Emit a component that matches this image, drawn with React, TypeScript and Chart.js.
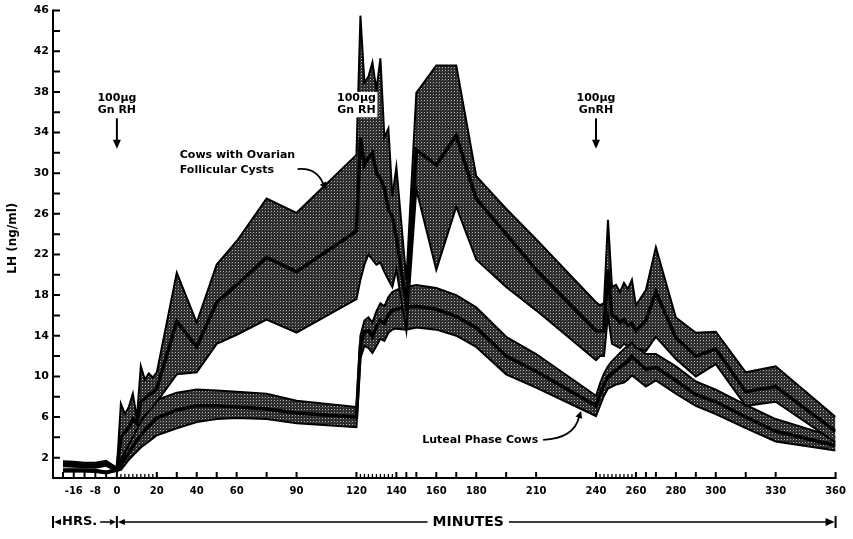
import React, { useEffect, useRef } from 'react';
import { Chart, registerables } from 'chart.js';

Chart.register(...registerables);

// hours before the first GnRH injection are drawn compressed on the minute axis
const HOUR_TO_AXIS = 1.35;

const hourTimes = [-20, -16, -12, -8, -4];
const minuteTimes = [
  0, 2, 4, 6, 8, 10, 12, 14, 16, 18, 20, 30, 40, 50, 60, 75, 90,
  120, 122, 124, 126, 128, 130, 132, 134, 136, 138, 140, 145, 150, 160, 170, 180, 195, 210,
  240, 242, 244, 246, 248, 250, 252, 254, 256, 258, 260, 265, 270, 280, 290, 300, 315, 330, 360,
];

// Cows with ovarian follicular cysts (mean and +/- SE band)
const cystMean = [
  1.4, 1.35, 1.25, 1.25, 1.45,
  0.85, 4.0, 4.5, 5.0, 5.8, 5.4, 7.5, 7.8, 8.2, 8.4, 8.8, 15.4, 12.9, 17.3, 19.0, 21.7, 20.3,
  24.3, 33.5, 30.8, 31.5, 32.0, 30.0, 29.5, 28.5, 26.4, 25.7, 23.7, 17.0, 32.3, 30.8, 33.7, 27.5, 24.0, 20.5,
  14.5, 14.5, 14.5, 20.5, 16.0, 15.8, 15.3, 15.6, 15.0, 15.2, 14.5, 15.5, 18.3, 13.8, 12.0, 12.7, 8.5, 9.0, 4.6,
];
const cystUpper = [
  1.65, 1.6, 1.5, 1.5, 1.7,
  1.0, 7.3, 6.3, 7.0, 8.3, 5.9, 11.0, 9.7, 10.3, 9.9, 10.4, 20.2, 15.3, 21.0, 23.3, 27.5, 26.1,
  31.8, 45.5, 38.9, 39.5, 40.9, 38.2, 41.3, 33.5, 34.4, 27.7, 30.6, 19.5, 37.9, 40.6, 40.6, 29.7, 26.5, 23.5,
  17.3, 17.0, 17.2, 25.4, 18.8, 19.0, 18.3, 19.2, 18.6, 19.5, 17.0, 18.5, 22.7, 15.8, 14.3, 14.4, 10.4, 11.0, 6.0,
];
const cystLower = [
  1.15, 1.1, 1.05, 1.0, 1.2,
  0.7, 1.8, 2.6, 3.3, 4.0, 4.8, 5.6, 6.2, 6.6, 7.0, 7.5, 10.2, 10.4, 13.2, 14.1, 15.6, 14.3,
  17.6, 19.5, 21.0, 22.0, 21.5, 21.0, 21.2, 20.3, 19.5, 18.8, 20.5, 14.5, 28.4, 20.5, 26.7, 21.5, 18.8, 16.5,
  11.6, 12.0, 12.0, 16.0, 13.2, 13.0, 12.8, 13.2, 13.0, 13.4, 12.8, 12.5, 13.9, 11.7, 10.0, 11.2, 7.1, 7.5, 3.5,
];

// Luteal phase cows (mean and +/- SE band)
const lutealMean = [
  0.75, 0.75, 0.75, 0.7, 0.55,
  0.8, 1.2, 1.9, 2.5, 3.1, 3.7, 4.2, 4.7, 5.1, 5.5, 5.9, 6.7, 7.1, 7.1, 7.0, 6.8, 6.4,
  6.0, 13.0, 14.4, 14.5, 13.9, 14.9, 15.5, 15.2, 16.1, 16.5, 16.6, 16.8, 16.9, 16.6, 15.9, 14.8, 12.0, 10.5,
  7.1, 8.2, 9.2, 9.9, 10.3, 10.6, 10.9, 11.2, 11.5, 12.0, 11.6, 10.7, 10.9, 9.6, 8.2, 7.5, 6.0, 4.6, 3.2,
];
const lutealUpper = [
  0.85, 0.85, 0.85, 0.8, 0.65,
  0.9, 1.7, 2.5, 3.3, 4.1, 4.8, 5.5, 6.1, 6.7, 7.2, 7.7, 8.4, 8.7, 8.6, 8.5, 8.3, 7.6,
  7.0, 14.0, 15.5, 15.8, 15.3, 16.4, 17.2, 16.9, 17.8, 18.3, 18.5, 18.8, 19.0, 18.7, 18.0, 16.8, 13.9, 12.2,
  8.1, 9.3, 10.3, 11.0, 11.5, 11.9, 12.3, 12.7, 13.0, 13.4, 13.0, 12.2, 12.2, 11.0, 9.5, 8.7, 7.2, 5.8, 4.0,
];
const lutealLower = [
  0.65, 0.65, 0.65, 0.6, 0.45,
  0.7, 0.8, 1.3, 1.8, 2.2, 2.6, 3.0, 3.3, 3.6, 3.9, 4.2, 4.9, 5.5, 5.8, 5.9, 5.8, 5.4,
  5.0, 11.8, 13.0, 12.8, 12.3, 13.0, 13.7, 13.5, 14.3, 14.6, 14.7, 14.6, 14.8, 14.6, 14.0, 12.9, 10.2, 8.9,
  6.1, 7.1, 8.1, 8.8, 9.0, 9.2, 9.3, 9.4, 9.7, 10.1, 9.8, 9.0, 9.6, 8.3, 7.1, 6.3, 4.9, 3.6, 2.7,
];

// axis ticks and labels
const xTickHours = [-20, -16, -12, -8, -4];
const xLabelHours = [-16, -8];
const xLabelMinutes = [0, 20, 40, 60, 90, 120, 140, 160, 180, 210, 240, 260, 280, 300, 330, 360];
const yTickValues = [2, 4, 6, 8, 10, 12, 14, 16, 18, 20, 22, 24, 26, 28, 30, 32, 34, 36, 38, 40, 42, 44, 46];
const yLabelValues = [2, 6, 10, 14, 18, 22, 26, 30, 34, 38, 42, 46];
const doseTimes = [0, 120, 240];
const doseLines = [['100µg', 'Gn RH'], ['100µg', 'Gn RH'], ['100µg', 'GnRH']];

const axisTimes = [...hourTimes.map((h) => h * HOUR_TO_AXIS), ...minuteTimes];
const xTickValues = [...xTickHours.map((h) => h * HOUR_TO_AXIS), ...minuteTimes];

const pts = (vals: number[]) => vals.map((v, i) => ({ x: axisTimes[i], y: v }));

function xLabel(v: number): string {
  for (const h of xLabelHours) if (Math.abs(h * HOUR_TO_AXIS - v) < 1e-6) return String(h);
  if (xLabelMinutes.includes(v)) return String(v);
  return '';
}

function makePattern(ctx: CanvasRenderingContext2D) {
  const c = document.createElement('canvas');
  c.width = 3;
  c.height = 3;
  const g = c.getContext('2d')!;
  g.fillStyle = '#2a2a2a';
  g.fillRect(0, 0, 3, 3);
  g.fillStyle = '#b4b4b4';
  g.fillRect(1, 1, 1, 1);
  g.fillStyle = '#505050';
  g.fillRect(0, 2, 1, 1);
  return ctx.createPattern(c, 'repeat')!;
}

const FONT = '"DejaVu Sans", "Liberation Sans", sans-serif';

function head(ctx: CanvasRenderingContext2D, x: number, y: number, ang: number, len = 7, half = 3.2) {
  const c = Math.cos(ang), s = Math.sin(ang);
  ctx.beginPath();
  ctx.moveTo(x, y);
  ctx.lineTo(x - len * c + half * s, y - len * s - half * c);
  ctx.lineTo(x - len * c - half * s, y - len * s + half * c);
  ctx.closePath();
  ctx.fill();
}

const decor = {
  id: 'decor',
  afterDatasetsDraw(chart: any) {
    const { ctx, scales } = chart;
    const xs = scales.x, ys = scales.y;
    const X = (t: number) => xs.getPixelForValue(t);
    const Y = (v: number) => ys.getPixelForValue(v);
    ctx.save();
    ctx.strokeStyle = '#000';
    ctx.fillStyle = '#000';
    ctx.lineCap = 'butt';

    // axes
    ctx.lineWidth = 2;
    ctx.beginPath();
    ctx.moveTo(xs.left, ys.top - 1);
    ctx.lineTo(xs.left, ys.bottom);
    ctx.lineTo(xs.right + 1, ys.bottom);
    ctx.stroke();

    // y ticks (inward)
    ctx.beginPath();
    for (const t of ys.ticks) {
      const py = Y(t.value);
      ctx.moveTo(xs.left, py);
      ctx.lineTo(xs.left + 7, py);
    }
    ctx.stroke();

    // x ticks (upward)
    for (const t of xs.ticks) {
      const v = t.value;
      const dense = (v > 0 && v < 20) || (v > 120 && v < 140) || (v > 240 && v < 260);
      ctx.lineWidth = dense ? 1.3 : 2;
      const px = X(v);
      ctx.beginPath();
      ctx.moveTo(px, ys.bottom);
      ctx.lineTo(px, ys.bottom - (dense ? 4 : 6));
      ctx.stroke();
    }

    // GnRH annotations
    ctx.font = `bold 11px ${FONT}`;
    ctx.textAlign = 'center';
    ctx.textBaseline = 'middle';
    doseTimes.forEach((t, i) => {
      const px = X(t);
      if (i === 1) {
        ctx.fillStyle = '#fff';
        ctx.fillRect(px - 20, Y(38.0), 41, Y(35.5) - Y(38.0));
        ctx.fillStyle = '#000';
      } else {
        ctx.lineWidth = 2;
        ctx.beginPath();
        ctx.moveTo(px, Y(35.4));
        ctx.lineTo(px, Y(33.0));
        ctx.stroke();
        head(ctx, px, Y(32.4), Math.PI / 2, 9, 4);
      }
      ctx.fillText(doseLines[i][0], px, Y(37.4));
      ctx.fillText(doseLines[i][1], px, Y(36.2));
    });

    // series labels
    ctx.textAlign = 'left';
    ctx.fillText('Cows with Ovarian', X(31.5), Y(31.8));
    ctx.fillText('Follicular Cysts', X(31.5), Y(30.3));
    ctx.lineWidth = 1.8;
    ctx.beginPath();
    ctx.moveTo(X(90.5), Y(30.4));
    ctx.quadraticCurveTo(X(100), Y(30.6), X(103.5), Y(28.9));
    ctx.stroke();
    head(ctx, X(104.8), Y(28.4), Math.atan2(Y(28.4) - Y(28.9), X(104.8) - X(103.5)), 7, 3.5);

    ctx.textAlign = 'center';
    ctx.fillText('Luteal Phase Cows', X(182), Y(3.75));
    ctx.beginPath();
    ctx.moveTo(X(213.5), Y(3.75));
    ctx.quadraticCurveTo(X(229), Y(3.9), X(231.5), Y(6.0));
    ctx.stroke();
    head(ctx, X(232.5), Y(6.6), Math.atan2(Y(6.6) - Y(6.0), X(232.5) - X(231.5)), 7, 3.5);

    // y title
    ctx.save();
    ctx.translate(xs.left - 40, Y(23.6));
    ctx.rotate(-Math.PI / 2);
    ctx.font = `bold 12px ${FONT}`;
    ctx.fillText('LH (ng/ml)', 0, 0);
    ctx.restore();

    // HRS / MINUTES span row
    const row = ys.bottom + 44;
    const x0 = xs.left, xz = X(0), xe = xs.right;
    ctx.lineWidth = 2;
    ctx.beginPath();
    for (const bx of [x0, xz, xe]) {
      ctx.moveTo(bx, row - 6);
      ctx.lineTo(bx, row + 6);
    }
    ctx.stroke();
    ctx.font = `bold 13px ${FONT}`;
    ctx.textAlign = 'left';
    ctx.fillText('HRS.', x0 + 9, row);
    const hw = ctx.measureText('HRS.').width;
    head(ctx, x0 + 1, row, Math.PI, 7, 3);
    ctx.lineWidth = 1.5;
    ctx.beginPath();
    ctx.moveTo(x0 + 9 + hw + 3, row);
    ctx.lineTo(xz - 3, row);
    ctx.stroke();
    head(ctx, xz - 1, row, 0, 6, 3);
    head(ctx, xz + 1, row, Math.PI, 7, 3);
    ctx.font = `bold 14px ${FONT}`;
    ctx.textAlign = 'center';
    const mx = X(176);
    const mw = ctx.measureText('MINUTES').width;
    ctx.fillText('MINUTES', mx, row);
    ctx.beginPath();
    ctx.moveTo(xz + 5, row);
    ctx.lineTo(mx - mw / 2 - 5, row);
    ctx.moveTo(mx + mw / 2 + 5, row);
    ctx.lineTo(xe - 5, row);
    ctx.stroke();
    head(ctx, xe - 1, row, 0, 9, 4);

    ctx.restore();
  },
};

export default function App() {
  const ref = useRef<HTMLCanvasElement>(null);
  useEffect(() => {
    const canvas = ref.current!;
    const ctx = canvas.getContext('2d')!;
    const pattern = makePattern(ctx);
    const edge = { borderColor: '#000', borderWidth: 2, pointRadius: 0, fill: false };
    const mean = { borderColor: '#000', borderWidth: 3.5, pointRadius: 0, fill: false };
    const chart = new Chart(canvas, {
      type: 'line',
      data: {
        datasets: [
          { label: 'Cysts mean', data: pts(cystMean), ...mean },
          { label: 'Cysts lower', data: pts(cystLower), ...edge },
          { label: 'Cysts upper', data: pts(cystUpper), ...edge, fill: '-1', backgroundColor: pattern },
          { label: 'Luteal mean', data: pts(lutealMean), ...mean },
          { label: 'Luteal lower', data: pts(lutealLower), ...edge },
          { label: 'Luteal upper', data: pts(lutealUpper), ...edge, fill: '-1', backgroundColor: pattern },
        ] as any,
      },
      options: {
        responsive: true,
        maintainAspectRatio: false,
        animation: false,
        layout: { padding: { top: 10, right: 15, left: 0, bottom: 0 } },
        elements: { line: { tension: 0, borderJoinStyle: 'miter' } },
        plugins: { legend: { display: false }, tooltip: { enabled: false } },
        scales: {
          x: {
            type: 'linear',
            min: -32,
            max: 360,
            grid: { display: false, drawTicks: false },
            border: { display: false },
            afterBuildTicks: (s: any) => {
              s.ticks = xTickValues.map((v) => ({ value: v }));
            },
            afterFit: (s: any) => {
              s.height = 61;
            },
            ticks: {
              autoSkip: false,
              maxRotation: 0,
              minRotation: 0,
              padding: 7,
              color: '#000',
              font: { family: FONT, weight: 'bold', size: 10 },
              callback: (v: any) => xLabel(Number(v)),
            },
          },
          y: {
            min: 0,
            max: 46,
            grid: { display: false, drawTicks: false },
            border: { display: false },
            afterBuildTicks: (s: any) => {
              s.ticks = yTickValues.map((v) => ({ value: v }));
            },
            afterFit: (s: any) => {
              s.width = 53;
            },
            ticks: {
              padding: 4,
              color: '#000',
              font: { family: FONT, weight: 'bold', size: 11 },
              callback: (v: any) => (yLabelValues.includes(Number(v)) ? String(v) : ''),
            },
          },
        },
      } as any,
      plugins: [decor],
    });
    return () => chart.destroy();
  }, []);
  return (
    <div style={{ position: 'absolute', left: 0, top: 0, width: 853, height: 539, background: '#fff' }}>
      <canvas ref={ref} />
    </div>
  );
}
